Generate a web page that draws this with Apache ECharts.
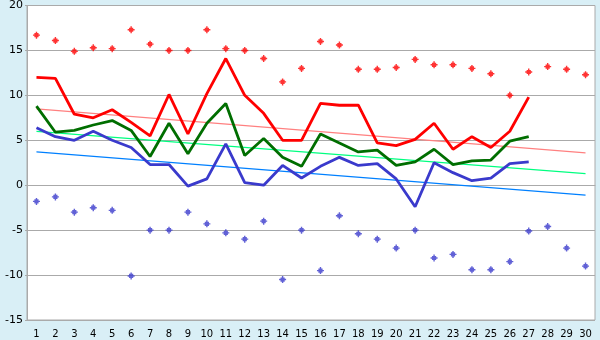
<!DOCTYPE html>
<html>
<head>
<meta charset="utf-8">
<script src="https://cdn.jsdelivr.net/npm/echarts@6/dist/echarts.min.js"></script>
<style>
  html, body { margin: 0; padding: 0; background: #d9eff6; }
  #chart { width: 600px; height: 340px; }
</style>
</head>
<body>
<div id="chart"></div>
<script>
// Days of the month
var days = ['1','2','3','4','5','6','7','8','9','10','11','12','13','14','15',
            '16','17','18','19','20','21','22','23','24','25','26','27','28','29','30'];

// Record high / record low per day (points)
var recordHigh = [16.7,16.1,14.9,15.3,15.2,17.3,15.7,15.0,15.0,17.3,15.2,15.0,14.1,11.5,13.0,
                  16.0,15.6,12.9,12.9,13.1,14.0,13.4,13.4,13.0,12.4,10.0,12.6,13.2,12.9,12.3];
var recordLow  = [-1.8,-1.3,-3.0,-2.5,-2.8,-10.1,-5.0,-5.0,-3.0,-4.3,-5.3,-6.0,-4.0,-10.5,-5.0,
                  -9.5,-3.4,-5.4,-6.0,-7.0,-5.0,-8.1,-7.7,-9.4,-9.4,-8.5,-5.1,-4.6,-7.0,-9.0];

// Daily maximum, mean and minimum (lines)
var dailyMax  = [12.0,11.9,7.9,7.5,8.4,7.0,5.5,10.1,5.7,10.2,14.1,10.0,8.0,5.0,5.0,9.1,8.9,8.9,
                 4.7,4.4,5.1,6.9,4.0,5.4,4.2,6.0,9.8];
var dailyMean = [8.8,5.9,6.1,6.7,7.2,6.1,3.2,6.9,3.5,6.9,9.1,3.3,5.2,3.1,2.1,5.7,4.7,3.7,
                 3.9,2.2,2.6,4.0,2.3,2.7,2.8,4.9,5.4];
var dailyMin  = [6.4,5.4,5.0,6.0,5.0,4.2,2.3,2.3,-0.1,0.7,4.6,0.3,0.0,2.2,0.8,2.1,3.1,2.2,
                 2.4,0.7,-2.4,2.5,1.4,0.5,0.8,2.4,2.6];

// Trend lines: value on the first and on the last day
var trendMax  = [8.5, 3.6];
var trendMean = [6.0, 1.3];
var trendMin  = [3.7, -1.1];

var yTicks = { min: -15, max: 20, step: 5 };

// small pixel-style diamond used for the record points
var markerPath = 'path://M2,0H3V1H4V2H5V3H4V4H3V5H2V4H1V3H0V2H1V1H2Z';

function trend(ends) {
  return [[0, ends[0]], [days.length - 1, ends[1]]];
}

var chart = echarts.init(document.getElementById('chart'), null, { renderer: 'canvas' });
chart.setOption({
  backgroundColor: '#d9eff6',
  animation: false,
  grid: {
    left: 27, right: 5, top: 5, bottom: 20,
    show: true, backgroundColor: '#ffffff', borderColor: '#aaaaaa', borderWidth: 1
  },
  xAxis: {
    type: 'category',
    data: days,
    boundaryGap: true,
    axisLine: { lineStyle: { color: '#aaaaaa', width: 1 } },
    axisTick: { alignWithLabel: true, length: 5, lineStyle: { color: '#222222' } },
    axisLabel: { color: '#000', fontFamily: 'DejaVu Sans', fontSize: 10, margin: 9, interval: 0 },
    splitLine: { show: false }
  },
  yAxis: {
    type: 'value',
    min: yTicks.min, max: yTicks.max, interval: yTicks.step,
    axisLine: { show: true, lineStyle: { color: '#aaaaaa', width: 1 } },
    axisTick: { show: true, length: 2, lineStyle: { color: '#aaaaaa' } },
    axisLabel: { color: '#000', fontFamily: 'DejaVu Sans', fontSize: 11, margin: 4 },
    splitLine: { show: true, lineStyle: { color: '#aaaaaa', width: 1 } }
  },
  series: [
    { type: 'line', data: trend(trendMax), symbol: 'none', lineStyle: { color: '#ff8080', width: 1.2 }, z: 1 },
    { type: 'line', data: trend(trendMean), symbol: 'none', lineStyle: { color: '#00ff80', width: 1.2 }, z: 1 },
    { type: 'line', data: trend(trendMin), symbol: 'none', lineStyle: { color: '#0080ff', width: 1.2 }, z: 1 },
    { type: 'line', data: dailyMax, symbol: 'none', lineStyle: { color: '#ff0000', width: 2.8 }, z: 3 },
    { type: 'line', data: dailyMean, symbol: 'none', lineStyle: { color: '#006e00', width: 2.8 }, z: 3 },
    { type: 'line', data: dailyMin, symbol: 'none', lineStyle: { color: '#3a3acc', width: 2.8 }, z: 3 },
    { type: 'scatter', data: recordHigh, symbol: markerPath, symbolSize: 7, itemStyle: { color: '#ff0000' }, z: 4 },
    { type: 'scatter', data: recordLow, symbol: markerPath, symbolSize: 7, itemStyle: { color: '#3a3acc' }, z: 4 }
  ]
});
</script>
</body>
</html>
